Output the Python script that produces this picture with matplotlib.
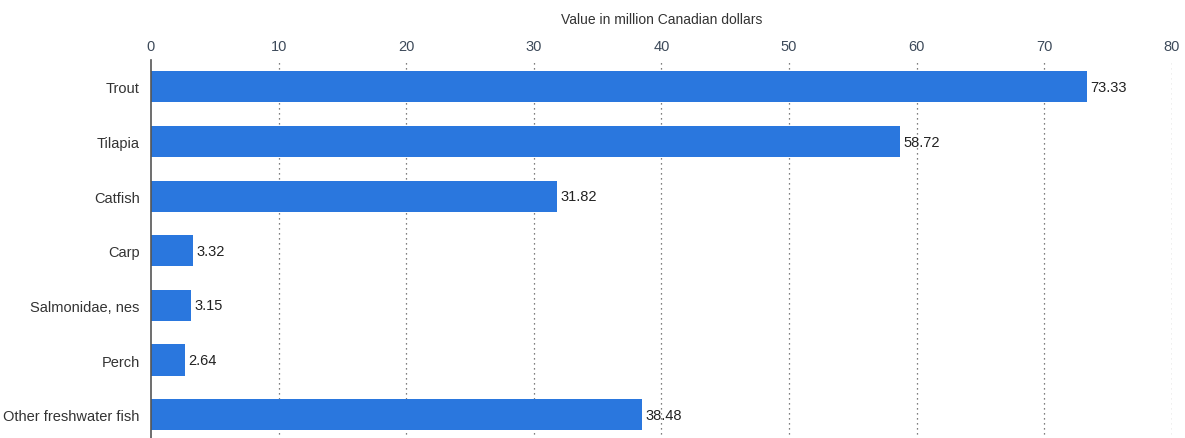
import numpy as np
import matplotlib.pyplot as plt

# data
categories = ["Trout", "Tilapia", "Catfish", "Carp", "Salmonidae, nes", "Perch", "Other freshwater fish"]
values = [73.33, 58.72, 31.82, 3.32, 3.15, 2.64, 38.48]
x_ticks = [0, 10, 20, 30, 40, 50, 60, 70, 80]

plt.rcParams['font.family'] = ['Liberation Sans', 'DejaVu Sans']

fig = plt.figure(figsize=(11.85, 4.39), dpi=100)
ax = fig.add_axes([0.1274, -0.009, 0.8616, 0.871])

y = np.arange(len(categories))
bars = ax.barh(y, values, height=0.57, color='#2a77de', zorder=3)

for yi, v in zip(y, values):
    ax.text(v + 0.25, yi, f"{v:.2f}", va='center', ha='left', fontsize=10.5, color='#222222')

ax.set_ylim(len(categories) - 0.5, -0.5)
ax.set_yticks(y)
ax.set_yticklabels(categories, fontsize=10.5, color='#333333')
ax.set_xlim(0, 80)
ax.set_xticks(x_ticks)
ax.xaxis.tick_top()
ax.xaxis.set_label_position('top')
ax.set_xlabel("Value in million Canadian dollars", fontsize=10, color='#333333', labelpad=11)
ax.tick_params(axis='x', length=0, pad=5, labelsize=10.5, labelcolor='#3d4a5a')
ax.tick_params(axis='y', length=0, pad=8)

for xt in x_ticks[1:]:
    ax.axvline(xt, color='#555555', linestyle=(0, (1, 3)), linewidth=0.9, zorder=1)

for s in ['top', 'right', 'bottom']:
    ax.spines[s].set_visible(False)
ax.spines['left'].set_color('#555555')
ax.spines['left'].set_linewidth(1.2)
ax.spines['left'].set_zorder(4)

fig.savefig("out.png", dpi=100)
